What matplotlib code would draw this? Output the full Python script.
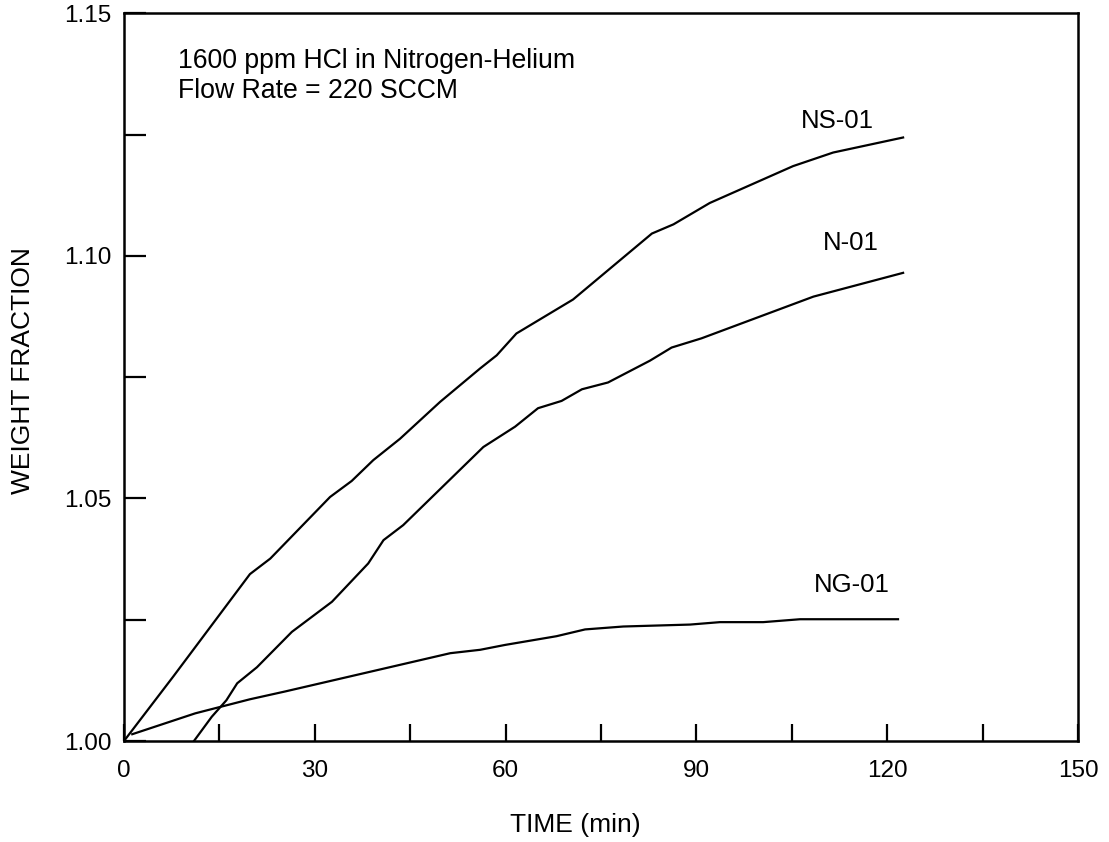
import matplotlib
matplotlib.use("Agg")
import matplotlib.pyplot as plt

# ---- data ----
ns01_t = [0, 7.75, 19.8, 23.0, 32.4, 35.8, 39.2, 43.4, 49.7, 56.0, 58.6, 61.7,
          70.6, 83.0, 86.4, 92.1, 105.2, 111.5, 122.5]
ns01_w = [1.000, 1.0133, 1.0344, 1.0376, 1.0503, 1.0536, 1.0579, 1.0623, 1.0699,
          1.0768, 1.0795, 1.0840, 1.0910, 1.1046, 1.1065, 1.1109, 1.1185, 1.1213, 1.1244]

n01_t = [11.0, 13.8, 16.1, 17.8, 20.9, 26.4, 32.7, 38.4, 40.8, 43.9, 56.5, 61.5,
         65.1, 68.8, 72.0, 76.1, 82.7, 86.1, 90.8, 108.4, 122.5]
n01_w = [1.0000, 1.0050, 1.0084, 1.0119, 1.0152, 1.0225, 1.0287, 1.0366, 1.0414,
         1.0445, 1.0606, 1.0648, 1.0686, 1.0701, 1.0725, 1.0739, 1.0784, 1.0811,
         1.0830, 1.0916, 1.0965]

ng01_t = [1.3, 11.2, 19.8, 25.3, 51.3, 56.0, 59.9, 68.0, 72.5, 78.5, 89.0, 93.7,
          100.5, 106.3, 121.7]
ng01_w = [1.0014, 1.0057, 1.0086, 1.0102, 1.0181, 1.0188, 1.0198, 1.0216, 1.0230,
          1.0236, 1.0240, 1.0245, 1.0245, 1.0251, 1.0251]

series_names = ["NS-01", "N-01", "NG-01"]
label_pos = [(112.1, 1.1278), (114.3, 1.1026), (114.4, 1.0321)]

x_ticks = [0, 15, 30, 45, 60, 75, 90, 105, 120, 135, 150]
x_ticklabels = ["0", "", "30", "", "60", "", "90", "", "120", "", "150"]
y_ticks = [1.00, 1.025, 1.05, 1.075, 1.10, 1.125, 1.15]
y_ticklabels = ["1.00", "", "1.05", "", "1.10", "", "1.15"]

note_lines = ["1600 ppm HCl in Nitrogen-Helium", "Flow Rate = 220 SCCM"]

# ---- figure ----
plt.rcParams['font.family'] = ['Liberation Sans', 'DejaVu Sans']
W, H = 1109, 842
fig = plt.figure(figsize=(W / 100, H / 100), dpi=100)
ax = fig.add_axes([124 / W, 1 - 741 / H, (1078 - 124) / W, (741 - 13.3) / H])

lw = 1.6
ax.plot(ns01_t, ns01_w, color='black', lw=lw, solid_joinstyle='round')
ax.plot(n01_t, n01_w, color='black', lw=lw, solid_joinstyle='round')
ax.plot(ng01_t, ng01_w, color='black', lw=lw, solid_joinstyle='round')

for name, (tx, ty) in zip(series_names, label_pos):
    ax.text(tx, ty, name, fontsize=18.5, ha='center', va='center')

ax.text(8.5, 1.1387, note_lines[0], fontsize=19.2, ha='left', va='baseline')
ax.text(8.5, 1.1325, note_lines[1], fontsize=19.2, ha='left', va='baseline')

ax.set_xlim(0, 150)
ax.set_ylim(1.0, 1.15)
ax.set_xticks(x_ticks)
ax.set_xticklabels(x_ticklabels)
ax.set_yticks(y_ticks)
ax.set_yticklabels(y_ticklabels)
ax.tick_params(axis='x', direction='in', length=12, width=1.6, labelsize=17.5, pad=14)
ax.tick_params(axis='y', direction='in', length=16, width=1.6, labelsize=17.5, pad=9)
for s in ax.spines.values():
    s.set_linewidth(1.8)

fig.text(575 / W, 1 - 825 / H, "TIME (min)", fontsize=19, ha='center', va='center')
fig.text(23 / W, 1 - 371 / H, "WEIGHT FRACTION", fontsize=19, ha='center',
         va='center', rotation=90)

fig.savefig("out.png", dpi=100)
